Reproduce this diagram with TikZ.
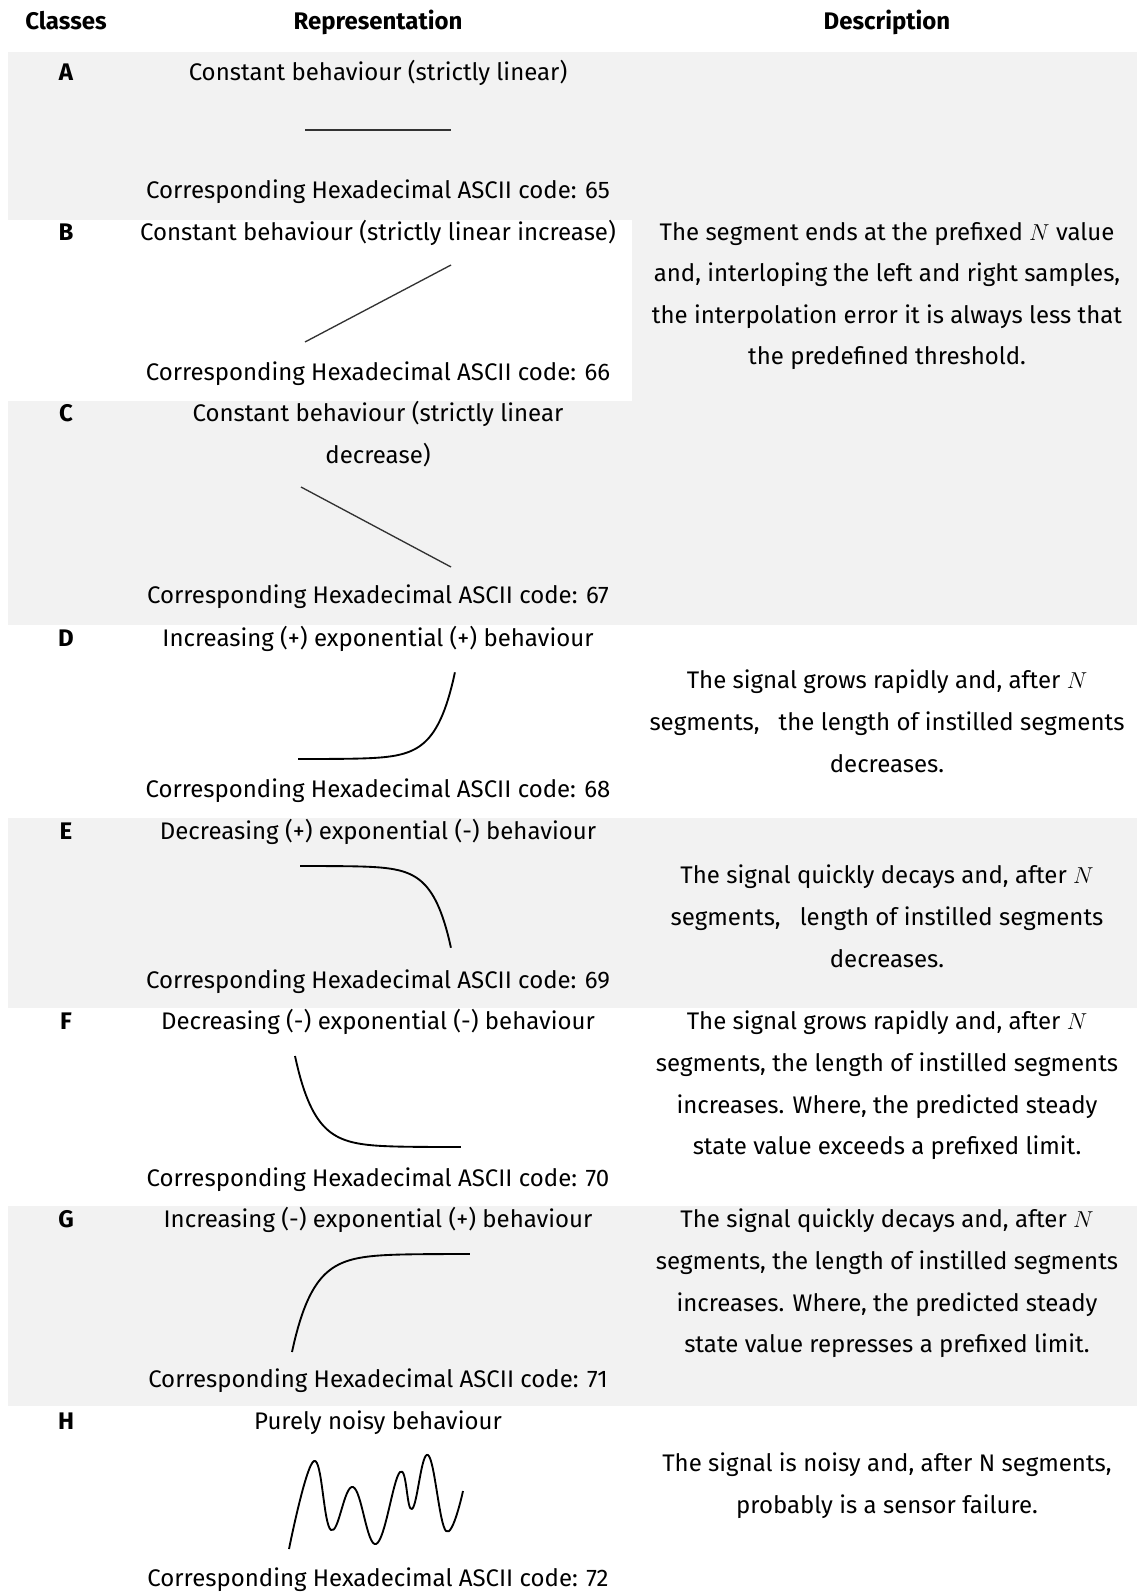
\documentclass[tikz,border=0pt]{standalone}
\usepackage{fontspec}
\setmainfont{Fira Sans}
\definecolor{bandgray}{RGB}{242,242,242}
\begin{document}
\begin{tikzpicture}[x=0.75pt,y=-0.75pt,
  txt/.style={font=\fontsize{18}{22}\selectfont, anchor=base, inner sep=0pt},
  hdr/.style={txt, font=\fontsize{18}{22}\selectfont\bfseries},
  band/.style={fill=bandgray, draw=none},
  seg/.style={line width=1pt, draw=black!80},
  crv/.style={line width=1.4pt, draw=black, line join=round}]
\useasboundingbox (0,0) rectangle (1137,1592);

% shaded table rows
\path[band] (8,52) rectangle (1137,220);
\path[band] (632,220) rectangle (1137,401);
\path[band] (8,401) rectangle (1137,625);
\path[band] (8,818) rectangle (1137,1008);
\path[band] (8,1206) rectangle (1137,1406);

% header
\node[hdr] (hc) at (66,29) {Classes};
\node[hdr] (hr) at (378,29) {Representation};
\node[hdr] (hd) at (887,29) {Description};

% class letters
\node[hdr] (cA) at (66,80) {A};
\node[hdr] (cB) at (66,240) {B};
\node[hdr] (cC) at (66,421) {C};
\node[hdr] (cD) at (66,646) {D};
\node[hdr] (cE) at (66,839) {E};
\node[hdr] (cF) at (66,1029) {F};
\node[hdr] (cG) at (66,1227) {G};
\node[hdr] (cH) at (66,1429) {H};

% representation titles
\node[txt] (tA) at (378,80) {Constant behaviour (strictly linear)};
\node[txt] (tB) at (378,240) {Constant behaviour (strictly linear increase)};
\node[txt] (tC) at (378,421) {Constant behaviour (strictly linear};
\node[txt] (tC2) at (378,463) {decrease)};
\node[txt] (tD) at (378,646) {Increasing (+) exponential (+) behaviour};
\node[txt] (tE) at (378,839) {Decreasing (+) exponential (-) behaviour};
\node[txt] (tF) at (378,1029) {Decreasing (-) exponential (-) behaviour};
\node[txt] (tG) at (378,1227) {Increasing (-) exponential (+) behaviour};
\node[txt] (tH) at (378,1429) {Purely noisy behaviour};

% ASCII codes
\node[txt] (kA) at (378,198) {Corresponding Hexadecimal ASCII code: 65};
\node[txt] (kB) at (378,380) {Corresponding Hexadecimal ASCII code: 66};
\node[txt] (kC) at (378,603) {Corresponding Hexadecimal ASCII code: 67};
\node[txt] (kD) at (378,797) {Corresponding Hexadecimal ASCII code: 68};
\node[txt] (kE) at (378,988) {Corresponding Hexadecimal ASCII code: 69};
\node[txt] (kF) at (378,1186) {Corresponding Hexadecimal ASCII code: 70};
\node[txt] (kG) at (378,1387) {Corresponding Hexadecimal ASCII code: 71};
\node[txt] (kH) at (378,1586) {Corresponding Hexadecimal ASCII code: 72};

% shapes of the classes (exponential profiles normalised to 0..1)
\draw[seg] (305,130) -- (451,130);
\draw[seg] (305,342) -- (451,265);
\draw[seg] (301,487) -- (451,567);
\draw[crv] plot[domain=0:1,samples=90,variable=\t]
  ({298+157*\t},{759-87*(exp(8.5*(\t-1))-0.0002)/0.9998});
\draw[crv] plot[domain=0:1,samples=90,variable=\t]
  ({300+151*\t},{866+82*(exp(8.5*(\t-1))-0.0002)/0.9998});
\draw[crv] plot[domain=0:1,samples=90,variable=\t]
  ({295+166*\t},{1147-91*(exp(-8.5*\t)-0.0002)/0.9998});
\draw[crv] plot[domain=0:1,samples=90,variable=\t]
  ({292+178*\t},{1254+98*(exp(-8.5*\t)-0.0002)/0.9998});
\draw[crv] plot[smooth,tension=0.7] coordinates {(289,1549) (314,1461)
  (331,1530) (353,1487) (376,1544) (400,1472) (412,1509) (428,1455)
  (446,1531) (463,1491)};

% descriptions
\node[txt] (dB1) at (887,240) {The segment ends at the prefixed $N$ value};
\node[txt] (dB2) at (887,281) {and, interloping the left and right samples,};
\node[txt] (dB3) at (887,323) {the interpolation error it is always less that};
\node[txt] (dB4) at (887,364) {the predefined threshold.};

\node[txt] (dD1) at (887,688) {The signal grows rapidly and, after $N$};
\node[txt] (dD2) at (887,730) {segments,\ \ \ the length of instilled segments};
\node[txt] (dD3) at (887,772) {decreases.};

\node[txt] (dE1) at (887,883) {The signal quickly decays and, after $N$};
\node[txt] (dE2) at (887,925) {segments,\ \ \ length of instilled segments};
\node[txt] (dE3) at (887,967) {decreases.};

\node[txt] (dF1) at (887,1029) {The signal grows rapidly and, after $N$};
\node[txt] (dF2) at (887,1071) {segments, the length of instilled segments};
\node[txt] (dF3) at (887,1113) {increases. Where, the predicted steady};
\node[txt] (dF4) at (887,1154) {state value exceeds a prefixed limit.};

\node[txt] (dG1) at (887,1227) {The signal quickly decays and, after $N$};
\node[txt] (dG2) at (887,1269) {segments, the length of instilled segments};
\node[txt] (dG3) at (887,1311) {increases. Where, the predicted steady};
\node[txt] (dG4) at (887,1352) {state value represses a prefixed limit.};

\node[txt] (dH1) at (887,1471) {The signal is noisy and, after N segments,};
\node[txt] (dH2) at (887,1513) {probably is a sensor failure.};
\end{tikzpicture}
\end{document}
